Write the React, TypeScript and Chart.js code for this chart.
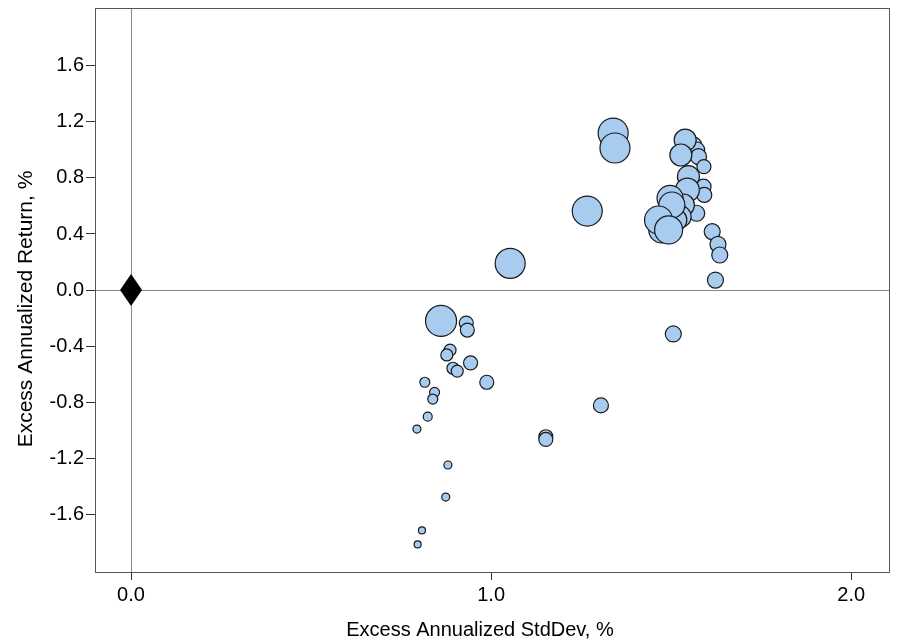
import React, { useEffect, useRef } from "react";
import { Chart, registerables } from "chart.js";

Chart.register(...registerables);

// Excess annualized standard deviation (%) of each fund
const stdDev = [
  0.931, 0.934, 0.886, 0.877, 0.894, 0.906, 0.943, 0.988, 0.816, 0.843,
  0.838, 0.824, 0.794, 1.305, 1.152, 1.152, 0.880, 0.874, 0.808, 0.796,
  1.506, 0.861,
  1.053, 1.267, 1.339, 1.344, 1.614, 1.630, 1.635, 1.623,
  1.562, 1.571, 1.576, 1.539, 1.527, 1.591, 1.590, 1.592, 1.548, 1.545,
  1.571, 1.534, 1.525, 1.513, 1.497, 1.502, 1.474, 1.465, 1.493,
];
// Excess annualized return (%) of each fund
const excessReturn = [
  -0.236, -0.286, -0.429, -0.464, -0.559, -0.579, -0.521, -0.659, -0.659, -0.731,
  -0.779, -0.905, -0.993, -0.824, -1.048, -1.067, -1.250, -1.479, -1.717, -1.817,
  -0.314, -0.221,
  0.190, 0.564, 1.121, 1.014, 0.417, 0.326, 0.250, 0.071,
  1.036, 1.000, 0.952, 1.071, 0.964, 0.881, 0.738, 0.679, 0.810, 0.714,
  0.548, 0.607, 0.524, 0.500, 0.655, 0.607, 0.429, 0.500, 0.429,
];
// Bubble radius (fund size)
const bubbleSize = [
  7, 7, 6, 6, 6, 6, 7, 7, 5, 5,
  5, 4.5, 4, 7.5, 7, 7, 4, 4, 3.5, 3.5,
  8, 15.5,
  15, 15, 15, 15, 8, 8, 8, 8,
  8, 8, 8, 11, 11, 7, 7.5, 7.5, 11, 12,
  8, 11, 11, 11, 13, 13, 13, 14, 14,
];

// Benchmark point
const benchmarkX = [0];
const benchmarkY = [0];

const xTicks = [0, 1, 2];
const yTicks = [-1.6, -1.2, -0.8, -0.4, 0, 0.4, 0.8, 1.2, 1.6];

const X_TITLE = "Excess Annualized StdDev, %";
const Y_TITLE = "Excess Annualized Return, %";

const FONT = '"Liberation Sans", Arial, sans-serif';

export default function App() {
  const ref = useRef<HTMLCanvasElement | null>(null);

  useEffect(() => {
    if (!ref.current) return;

    const diamond = document.createElement("canvas");
    diamond.width = 24;
    diamond.height = 34;
    const dctx = diamond.getContext("2d")!;
    dctx.fillStyle = "#000";
    dctx.beginPath();
    dctx.moveTo(12, 1);
    dctx.lineTo(23, 17);
    dctx.lineTo(12, 33);
    dctx.lineTo(1, 17);
    dctx.closePath();
    dctx.fill();

    const framePlugin = {
      id: "frameAndTitles",
      afterDraw(chart: any) {
        const ctx = chart.ctx;
        const a = chart.chartArea;
        ctx.save();
        ctx.strokeStyle = "#555";
        ctx.lineWidth = 1;
        ctx.strokeRect(a.left + 0.5, a.top + 0.5, a.right - a.left, a.bottom - a.top);
        ctx.fillStyle = "#000";
        ctx.textAlign = "center";
        ctx.textBaseline = "alphabetic";
        ctx.font = `20px ${FONT}`;
        ctx.fillText(X_TITLE, 480, 636);
        ctx.font = `21px ${FONT}`;
        ctx.translate(32, 309);
        ctx.rotate(-Math.PI / 2);
        ctx.fillText(Y_TITLE, 0, 0);
        ctx.restore();
      },
    };

    const bubbles = stdDev.map((x, i) => ({ x, y: excessReturn[i], r: bubbleSize[i] }));
    const bench = benchmarkX.map((x, i) => ({ x, y: benchmarkY[i], r: 12 }));

    const chart = new Chart(ref.current, {
      type: "bubble",
      data: {
        datasets: [
          {
            data: bench,
            pointStyle: diamond as any,
            backgroundColor: "#000",
            borderColor: "#000",
          },
          {
            data: bubbles,
            backgroundColor: "#A8CBF0",
            borderColor: "#1a1a1a",
            borderWidth: 1.2,
          },
        ],
      },
      options: {
        responsive: false,
        animation: false,
        events: [],
        layout: { autoPadding: false, padding: { top: 8, right: 10, left: 0, bottom: 0 } },
        plugins: { legend: { display: false }, tooltip: { enabled: false } },
        scales: {
          x: {
            type: "linear",
            min: -0.1,
            max: 2.105,
            afterFit(scale: any) {
              scale.height = 72;
              scale.paddingLeft = 0;
              scale.paddingRight = 0;
            },
            afterBuildTicks(scale: any) {
              scale.ticks = xTicks.map((v) => ({ value: v }));
            },
            border: { display: false },
            grid: {
              color: (c: any) => (c.tick && c.tick.value === 0 ? "#888" : "rgba(0,0,0,0)"),
              tickColor: "#333",
              tickLength: 8,
              lineWidth: 1,
            },
            ticks: {
              color: "#000",
              padding: 3,
              maxRotation: 0,
              autoSkip: false,
              font: { family: FONT, size: 20 },
              callback: (v: any) => Number(v).toFixed(1),
            },
          },
          y: {
            type: "linear",
            min: -2.014,
            max: 2.014,
            afterFit(scale: any) {
              scale.width = 95;
              scale.paddingTop = 0;
              scale.paddingBottom = 0;
            },
            afterBuildTicks(scale: any) {
              scale.ticks = yTicks.map((v) => ({ value: v }));
            },
            border: { display: false },
            grid: {
              color: (c: any) => (c.tick && c.tick.value === 0 ? "#888" : "rgba(0,0,0,0)"),
              tickColor: "#333",
              tickLength: 9,
              lineWidth: 1,
            },
            ticks: {
              color: "#000",
              padding: 2,
              autoSkip: false,
              font: { family: FONT, size: 20 },
              callback: (v: any) => Number(v).toFixed(1),
            },
          },
        },
      },
      plugins: [framePlugin],
    });

    return () => chart.destroy();
  }, []);

  return (
    <div style={{ position: "absolute", left: 0, top: 0, width: 899, height: 644 }}>
      <canvas ref={ref} width={899} height={644} style={{ width: 899, height: 644 }} />
    </div>
  );
}
